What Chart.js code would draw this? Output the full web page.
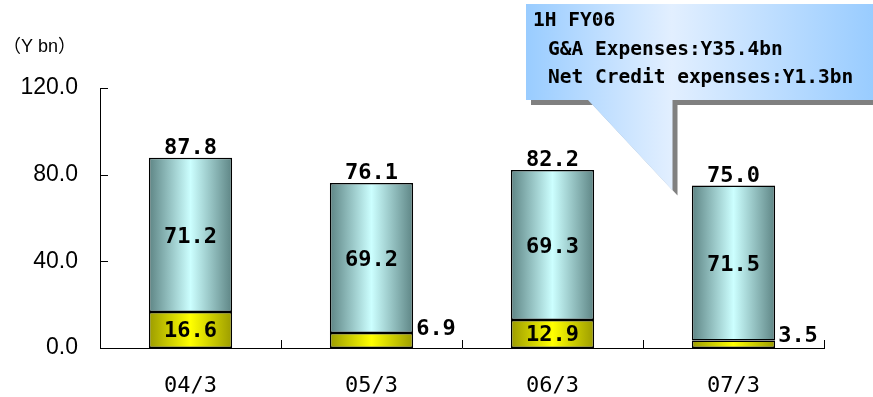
<!DOCTYPE html>
<html>
<head>
<meta charset="utf-8">
<script src="https://cdn.jsdelivr.net/npm/chart.js@4/dist/chart.umd.min.js"></script>
<style>
  body { margin: 0; background: #fff; }
  #wrap { width: 873px; height: 397px; }
</style>
</head>
<body>
<div id="wrap"><canvas id="chart" width="873" height="397"></canvas></div>
<script>
const categories = ["04/3", "05/3", "06/3", "07/3"];
const creditExpenses = [16.6, 6.9, 12.9, 3.5];
const gaExpenses = [71.2, 69.2, 69.3, 71.5];
const yTicks = [0, 40, 80, 120];
const calloutTitle = "1H FY06";
const calloutLines = ["G&A Expenses:Y35.4bn", "Net Credit expenses:Y1.3bn"];

const totals = categories.map((c, i) => creditExpenses[i] + gaExpenses[i]);
const barPct = 0.46;
const labelFont = "bold 22px 'DejaVu Sans Mono', monospace";

function barGradient(context, edge, mid) {
    const chart = context.chart;
    if (!chart.chartArea || context.dataIndex === undefined) return mid;
    const xs = chart.scales.x;
    const x = xs.getPixelForValue(context.dataIndex);
    const half = xs.width / categories.length * barPct / 2;
    const g = chart.ctx.createLinearGradient(x - half, 0, x + half, 0);
    g.addColorStop(0, edge);
    g.addColorStop(0.5, mid);
    g.addColorStop(1, edge);
    return g;
}

// inward tick marks + unit label
const axisExtras = {
    id: "axisExtras",
    afterDraw(chart) {
        const ctx = chart.ctx;
        const xs = chart.scales.x, ys = chart.scales.y;
        const area = chart.chartArea;
        ctx.save();
        ctx.strokeStyle = "#000";
        ctx.lineWidth = 1;
        yTicks.forEach(v => {
            const y = Math.round(ys.getPixelForValue(v)) + 0.5;
            ctx.beginPath();
            ctx.moveTo(area.left, y);
            ctx.lineTo(area.left + 8, y);
            ctx.stroke();
        });
        const step = xs.width / categories.length;
        for (let i = 0; i <= categories.length; i++) {
            const x = Math.round(area.left + step * i) + 0.5;
            ctx.beginPath();
            ctx.moveTo(x, area.bottom);
            ctx.lineTo(x, area.bottom - 8);
            ctx.stroke();
        }
        ctx.fillStyle = "#000";
        ctx.font = "18px 'Liberation Sans', 'Noto Sans CJK JP'";
        ctx.textAlign = "left";
        ctx.textBaseline = "middle";
        ctx.fillText("（Y bn）", 3, 47);
        ctx.restore();
    }
};

const valueLabels = {
    id: "valueLabels",
    afterDatasetsDraw(chart) {
        const ctx = chart.ctx;
        const m0 = chart.getDatasetMeta(0), m1 = chart.getDatasetMeta(1);
        ctx.save();
        ctx.fillStyle = "#000";
        ctx.font = labelFont;
        categories.forEach((c, i) => {
            const b0 = m0.data[i], b1 = m1.data[i];
            // credit segment
            if (creditExpenses[i] >= 10) {
                ctx.textAlign = "center";
                ctx.textBaseline = "middle";
                ctx.fillText(creditExpenses[i].toFixed(1), b0.x, (b0.y + b0.base) / 2 + 1);
            } else {
                ctx.textAlign = "left";
                ctx.textBaseline = "alphabetic";
                ctx.fillText(creditExpenses[i].toFixed(1), b0.x + b0.width / 2 + 3, b0.y + 2);
            }
            // G&A segment
            ctx.textAlign = "center";
            ctx.textBaseline = "middle";
            ctx.fillText(gaExpenses[i].toFixed(1), b1.x, (b1.y + b1.base) / 2 + 2);
            // total
            ctx.textBaseline = "alphabetic";
            ctx.fillText(totals[i].toFixed(1), b1.x, b1.y - 4);
        });
        ctx.restore();
    }
};

const callout = {
    id: "callout",
    afterDraw(chart) {
        const ctx = chart.ctx;
        const xs = chart.scales.x, ys = chart.scales.y;
        const tipX = xs.getPixelForValue(3) - 61;
        const tipY = ys.getPixelForValue(totals[3]) + 5;
        const L = 526, T = 4, R = 900, B = 100, baseL = 588;
        ctx.save();
        ctx.beginPath();
        ctx.moveTo(L, T);
        ctx.lineTo(R, T);
        ctx.lineTo(R, B);
        ctx.lineTo(tipX, B);
        ctx.lineTo(tipX, tipY);
        ctx.lineTo(baseL, B);
        ctx.lineTo(L, B);
        ctx.closePath();
        const g = ctx.createLinearGradient(L, 0, 873, 0);
        g.addColorStop(0, "#99CCFF");
        g.addColorStop(0.42, "#E2EFFF");
        g.addColorStop(1, "#99CCFF");
        ctx.shadowColor = "#808080";
        ctx.shadowOffsetX = 5;
        ctx.shadowOffsetY = 5;
        ctx.shadowBlur = 0;
        ctx.fillStyle = g;
        ctx.fill();
        ctx.shadowColor = "transparent";
        ctx.fillStyle = "#000";
        ctx.font = "bold 19.5px 'DejaVu Sans Mono', monospace";
        ctx.textAlign = "left";
        ctx.textBaseline = "middle";
        ctx.fillText(calloutTitle, 533, 21);
        ctx.fillText(calloutLines[0], 548, 50);
        ctx.fillText(calloutLines[1], 548, 78);
        ctx.restore();
    }
};

new Chart(document.getElementById("chart"), {
    type: "bar",
    data: {
        labels: categories,
        datasets: [
            {
                label: "Net Credit expenses",
                data: creditExpenses,
                backgroundColor: ctx => barGradient(ctx, "#9C9C00", "#FFFF00"),
                borderColor: "#000",
                borderWidth: 1.5,
                borderSkipped: false
            },
            {
                label: "G&A Expenses",
                data: gaExpenses,
                backgroundColor: ctx => barGradient(ctx, "#5E8585", "#CCFFFF"),
                borderColor: "#000",
                borderWidth: 1.5,
                borderSkipped: false
            }
        ]
    },
    options: {
        responsive: false,
        animation: false,
        categoryPercentage: 1,
        barPercentage: barPct,
        layout: { padding: { top: 88, right: 49, left: 0, bottom: 0 } },
        plugins: {
            legend: { display: false },
            tooltip: { enabled: false }
        },
        scales: {
            x: {
                stacked: true,
                grid: { display: false, drawTicks: false },
                border: { display: true, color: "#000", width: 1 },
                ticks: {
                    color: "#000",
                    padding: 25,
                    font: { family: "'DejaVu Sans Mono', monospace", size: 22 }
                },
                afterFit(scale) { scale.height = 49; }
            },
            y: {
                stacked: true,
                min: 0,
                max: 120,
                grid: { display: false, drawTicks: false },
                border: { display: true, color: "#000", width: 1 },
                ticks: {
                    stepSize: 40,
                    color: "#000",
                    padding: 22,
                    font: { family: "'Liberation Sans', 'Noto Sans CJK JP'", size: 23 },
                    callback: v => Number(v).toFixed(1)
                },
                afterFit(scale) { scale.width = 100; }
            }
        }
    },
    plugins: [axisExtras, valueLabels, callout]
});
</script>
</body>
</html>
